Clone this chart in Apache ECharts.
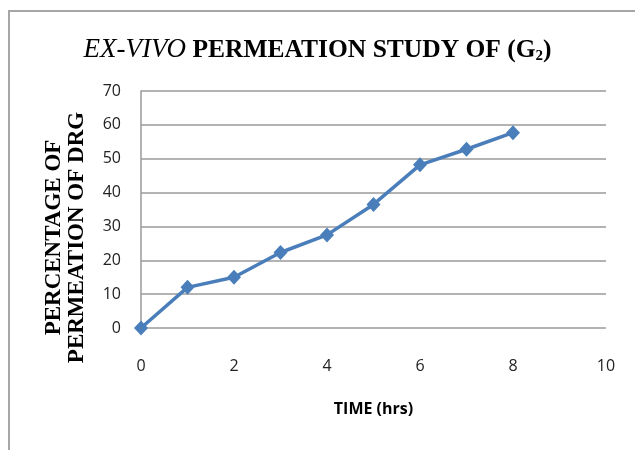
<!DOCTYPE html>
<html>
<head>
<meta charset="utf-8">
<script src="https://cdn.jsdelivr.net/npm/echarts@6/dist/echarts.min.js"></script>
<style>
  html, body { margin: 0; padding: 0; background: #fff; }
  #frame { position: absolute; left: 8px; top: 10px; width: 640px; height: 460px;
           border-left: 2px solid #a6a6a6; border-top: 2px solid #a6a6a6; }
  #chart { position: absolute; left: 0; top: 0; width: 635px; height: 450px; }
</style>
</head>
<body>
<div id="frame"></div>
<div id="chart"></div>
<script>
// Time points (hrs) and cumulative drug permeation (%)
const timeHrs = [0, 1, 2, 3, 4, 5, 6, 7, 8];
const permeation = [0, 12, 15, 22.3, 27.5, 36.5, 48.2, 52.8, 57.7];

const chart = echarts.init(document.getElementById('chart'), null, { renderer: 'canvas' });

chart.setOption({
  backgroundColor: 'transparent',
  animation: false,
  title: {
    text: '{i|EX-VIVO}{b| PERMEATION STUDY OF (G}{s|2}{b|)}',
    left: 'center',
    top: 31,
    textStyle: {
      rich: {
        i: { fontFamily: 'Liberation Serif', fontStyle: 'italic', fontWeight: 'normal', fontSize: 27, color: '#000' },
        b: { fontFamily: 'Liberation Serif', fontWeight: 'bold', fontSize: 25.5, color: '#000' },
        s: { fontFamily: 'Liberation Serif', fontWeight: 'bold', fontSize: 15, color: '#000', padding: [13, 0, 0, 0] }
      }
    }
  },
  grid: { left: 141, right: 29, top: 91, bottom: 122 },
  xAxis: {
    type: 'value',
    min: 0, max: 10, interval: 2,
    name: 'TIME (hrs)',
    nameLocation: 'middle',
    nameGap: 73,
    nameTextStyle: { fontFamily: 'Open Sans', fontWeight: 'bold', fontSize: 16, color: '#000' },
    axisLine: { show: false },
    axisTick: { show: false },
    splitLine: { show: false },
    axisLabel: { fontFamily: 'Open Sans', fontSize: 16, color: '#222', margin: 30 }
  },
  yAxis: {
    type: 'value',
    min: 0, max: 70, interval: 10,
    name: 'PERCENTAGE OF\nPERMEATION OF DRG',
    nameLocation: 'middle',
    nameRotate: 90,
    nameGap: 52,
    nameTextStyle: {
      fontFamily: 'Liberation Serif', fontWeight: 'bold', fontSize: 23, color: '#000',
      lineHeight: 23, padding: [0, 56, 0, 0]
    },
    axisLine: { show: true, lineStyle: { color: '#9a9a9a', width: 1.5 } },
    axisTick: { show: false },
    splitLine: { show: true, lineStyle: { color: '#9a9a9a', width: 1.5 } },
    axisLabel: { fontFamily: 'Open Sans', fontSize: 16, color: '#222', margin: 20 }
  },
  series: [{
    type: 'line',
    data: timeHrs.map((t, i) => [t, permeation[i]]),
    symbol: 'diamond',
    symbolSize: [14, 15],
    lineStyle: { color: '#4a7ebb', width: 3.5 },
    itemStyle: { color: '#4a7ebb' }
  }]
});
</script>
</body>
</html>
